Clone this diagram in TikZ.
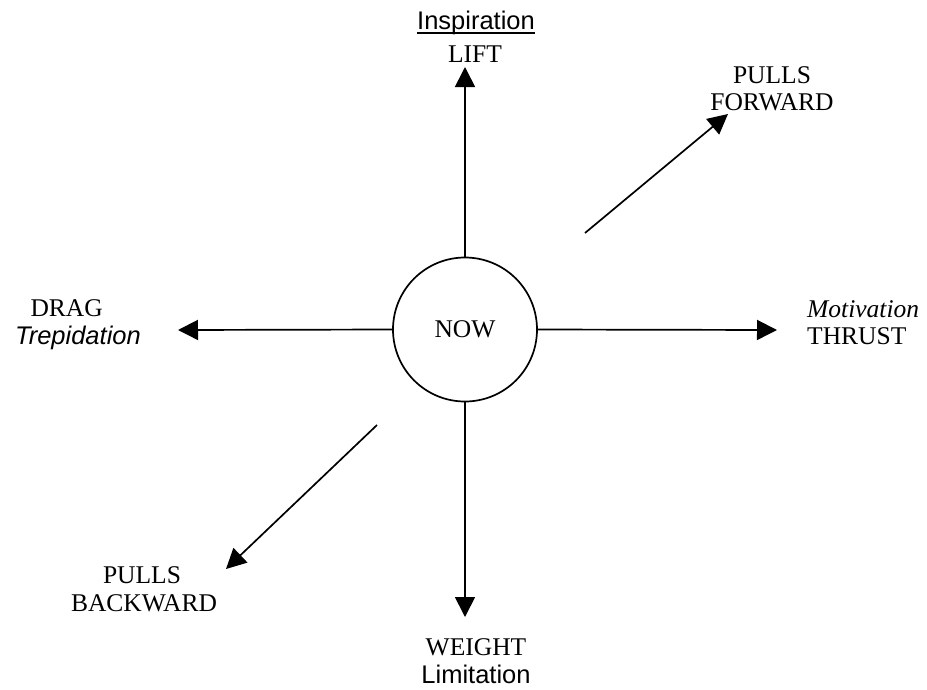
\documentclass[tikz,border=0pt]{standalone}
\usepackage{fontspec}
\setmainfont{Liberation Serif}
\newfontfamily\arialf{Liberation Sans}
\usetikzlibrary{arrows.meta}
\begin{document}
\begin{tikzpicture}[x=1pt,y=-1pt,
  font=\fontsize{25.5}{28}\selectfont,
  force/.style={line width=1.7pt,-{Triangle[length=20pt,width=20pt]}},
  lbl/.style={inner sep=0pt,anchor=base},
  lblw/.style={inner sep=0pt,anchor=base west},
  lble/.style={inner sep=0pt,anchor=base east}]
\useasboundingbox (0,0) rectangle (927,689);
\node[draw,circle,line width=1.7pt,minimum size=144pt,inner sep=0pt] (now) at (465,329.5) {NOW};
% tips and free ends
\coordinate (liftTip) at (465,67);
\coordinate (weightTip) at (465,617);
\coordinate (thrustTip) at (777,330);
\coordinate (dragTip) at (178,330);
\coordinate (fwdStart) at (585,233);
\coordinate (fwdTip) at (728,114);
\coordinate (bwdStart) at (377,425);
\coordinate (bwdTip) at (226,569);
% arrows
\draw[force] (now.north) -- (liftTip);
\draw[force] (now.south) -- (weightTip);
\draw[force] (now.east) -- (thrustTip);
\draw[force] (now.west) -- (dragTip);
\draw[force] (fwdStart) -- (fwdTip);
\draw[force] (bwdStart) -- (bwdTip);
% labels
\node[lbl] (insp) at (476,29) {\arialf Inspiration};
\draw[line width=1.6pt] ([yshift=-4pt]insp.base west) -- ([yshift=-4pt]insp.base east);
\node[lbl] (lift) at (475,62) {LIFT};
\node[lblw] (motiv) at (807,317) {\itshape Motivation};
\node[lblw] (thrust) at (807,344) {THRUST};
\node[lble] (drag) at (103,316) {DRAG};
\node[lble] (trep) at (141,344) {\arialf\itshape Trepidation};
\node[lbl] (weight) at (476,655) {WEIGHT};
\node[lbl] (limit) at (476,683) {\arialf Limitation};
\node[lbl] (pf1) at (772,83) {PULLS};
\node[lbl] (pf2) at (772,110) {FORWARD};
\node[lbl] (pb1) at (142,583) {PULLS};
\node[lbl] (pb2) at (144,611) {BACKWARD};
\end{tikzpicture}
\end{document}
